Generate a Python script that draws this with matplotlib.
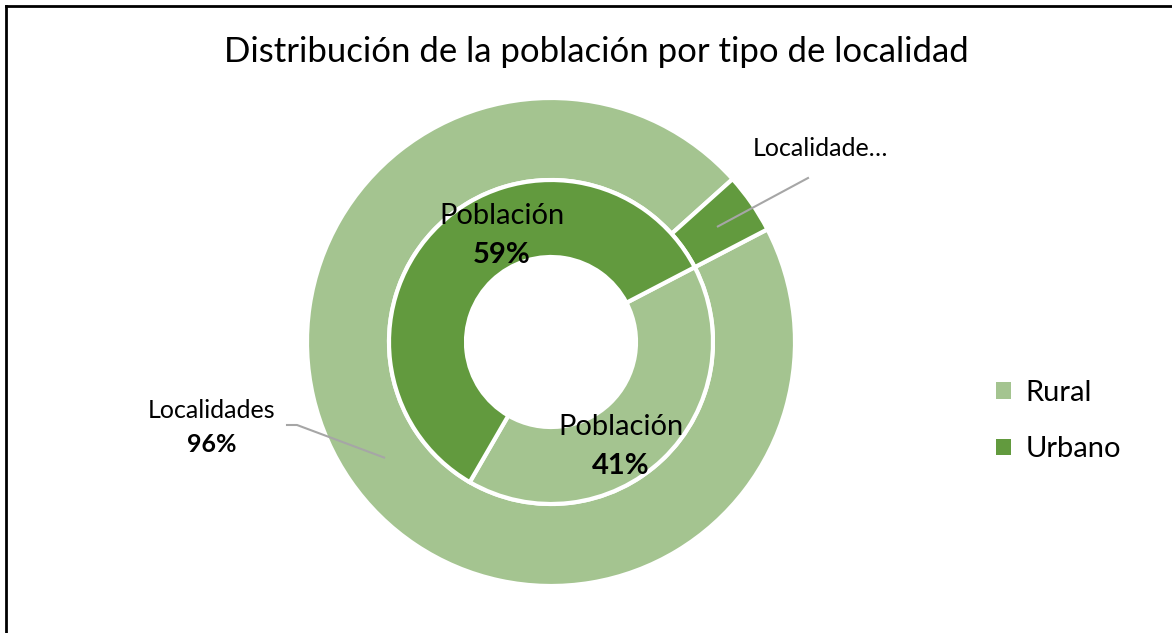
import numpy as np
import matplotlib.pyplot as plt
from matplotlib.lines import Line2D
from matplotlib.patches import Patch

plt.rcParams['font.family'] = ['Lato', 'DejaVu Sans']

# datos
categorias = ["Rural", "Urbano"]
localidades = [96, 4]     # anillo exterior
poblacion = [41, 59]      # anillo interior
colores = ["#A4C490", "#629A3E"]

W, H = 1172, 633
fig = plt.figure(figsize=(W / 100, H / 100), dpi=100)
ax = fig.add_axes([0, 0, 1, 1])
ax.set_xlim(0, W)
ax.set_ylim(0, H)
ax.set_aspect('equal')
ax.axis('off')

cx, cy = 551, H - 342
r_out, r_mid, r_in = 244, 162, 85
start = 27.5

w_out, _ = ax.pie(localidades, radius=r_out, center=(cx, cy), colors=colores,
                  startangle=start, counterclock=False,
                  wedgeprops=dict(width=r_out - r_mid, edgecolor='white', linewidth=3))
w_in, _ = ax.pie(poblacion, radius=r_mid, center=(cx, cy), colors=colores,
                 startangle=start, counterclock=False,
                 wedgeprops=dict(width=r_mid - r_in, edgecolor='white', linewidth=3))
ax.set_xlim(0, W)
ax.set_ylim(0, H)

# etiquetas anillo exterior con lineas guia
def mid_point(w, r):
    a = np.deg2rad((w.theta1 + w.theta2) / 2)
    return cx + r * np.cos(a), cy + r * np.sin(a)

rm = (r_out + r_mid) / 2
px, py = mid_point(w_out[1], rm)
ax.plot([px, 808], [py, H - 178], color='#A6A6A6', lw=1.5)
ax.text(820, H - 148, "Localidade…", fontsize=18, ha='center', va='center')

px, py = mid_point(w_out[0], rm)
ax.plot([px, 297, 287], [py, H - 425, H - 425], color='#A6A6A6', lw=1.5)
ax.text(212, H - 410, "Localidades", fontsize=18, ha='center', va='center')
ax.text(212, H - 444, f"{localidades[0]}%", fontsize=18, ha='center', va='center',
        fontweight='bold')

# etiquetas anillo interior
ax.text(502, H - 216, "Población", fontsize=21, ha='center', va='center')
ax.text(502, H - 255, f"{poblacion[1]}%", fontsize=21, ha='center', va='center',
        fontweight='bold')
ax.text(621, H - 427, "Población", fontsize=21, ha='center', va='center')
ax.text(621, H - 466, f"{poblacion[0]}%", fontsize=21, ha='center', va='center',
        fontweight='bold')

ax.text(596, H - 52, "Distribución de la población por tipo de localidad",
        fontsize=25, ha='center', va='center')

handles = [Patch(facecolor=c, edgecolor='none') for c in colores]
fig.legend(handles, categorias, loc='center left', bbox_to_anchor=(996 / W, 1 - 421 / H),
           frameon=False, fontsize=21, handlelength=0.5, handleheight=0.5,
           handletextpad=0.5, labelspacing=1.05, borderpad=0, borderaxespad=0)

# marco
fig.add_artist(Line2D([6 / W, 6 / W], [0, 1 - 6 / H], color='black', lw=2))
fig.add_artist(Line2D([6 / W, 1], [1 - 6 / H, 1 - 6 / H], color='black', lw=2))

fig.savefig("out.png", dpi=100)
